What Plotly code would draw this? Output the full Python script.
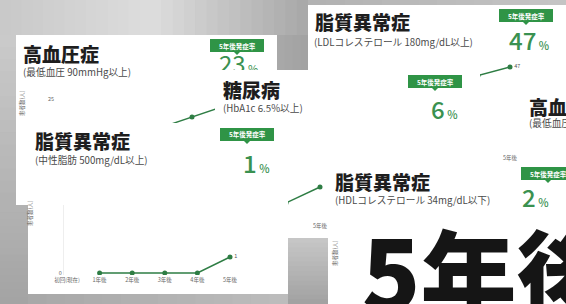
import plotly.graph_objects as go

W, H = 566, 304

# ---------------- data ----------------
years = ["初回(現在)", "1年後", "2年後", "3年後", "4年後", "5年後"]
tg_counts = [None, 0, 0, 0, 0, 1]             # 脂質異常症(中性脂肪) – main chart
htn_counts = [None, None, None, 17, 20, 23]    # 高血圧症 (mostly hidden)
dm_counts = [None, None, None, None, 3, 6]     # 糖尿病 (fragment)
ldl_counts = [None, None, None, None, 40, 47]  # 脂質異常症(LDL) (fragment)

card_titles = ["高血圧症", "糖尿病", "脂質異常症", "脂質異常症", "高血圧症", "脂質異常症"]
card_notes = ["(最低血圧 90mmHg以上)", "(HbA1c 6.5%以上)", "(中性脂肪 500mg/dL以上)",
              "(LDLコレステロール 180mg/dL以上)", "(最低血圧 90mmHg以上)",
              "(HDLコレステロール 34mg/dL以下)"]
risk_pct = [23, 6, 1, 47, None, 2]
badge_label = "5年後発症率"
y_title = "患者数(人)"
headline = "5年後"

# ---------------- styling / layout helpers ----------------
FONT = "Noto Sans CJK JP, Noto Sans, sans-serif"
GREEN_LINE = "#2e7d44"
GREEN_BADGE = "#2f9446"
GREEN_NUM = "#3a9150"


def fx(x):
    return x / W


def fy(y):
    return 1 - y / H


def rect(x0, y0, x1, y1, color):
    return dict(type="rect", xref="paper", yref="paper", x0=fx(x0), x1=fx(x1),
                y0=fy(y1), y1=fy(y0), fillcolor=color, line=dict(width=0), layer="below")


def hex2rgb(c):
    c = c.lstrip("#")
    return [int(c[i:i + 2], 16) for i in (0, 2, 4)]


def grad(x0, y0, x1, y1, c0, c1, n=14, horizontal=False):
    a, b = hex2rgb(c0), hex2rgb(c1)
    out = []
    for i in range(n):
        t = i / max(n - 1, 1)
        col = "rgb(%d,%d,%d)" % tuple(round(a[j] + (b[j] - a[j]) * t) for j in range(3))
        if horizontal:
            xa = x0 + (x1 - x0) * i / n
            xb = x0 + (x1 - x0) * (i + 1) / n + 0.6
            out.append(rect(xa, y0, xb, y1, col))
        else:
            ya = y0 + (y1 - y0) * i / n
            yb = y0 + (y1 - y0) * (i + 1) / n + 0.6
            out.append(rect(x0, ya, x1, yb, col))
    return out


shapes = []
# gray backdrop variations
shapes += grad(0, 0, 150, 35, "#c9c9c9", "#dcdcdc", horizontal=True)
shapes += grad(150, 0, 308, 35, "#dcdcdc", "#a9a9a9", horizontal=True)
shapes += grad(277, 35, 308, 70, "#a8a8a8", "#a2a2a2", n=4, horizontal=True)
shapes += grad(308, 0, 566, 5, "#b2b2b2", "#c4c4c4", horizontal=True)
shapes += grad(0, 35, 16, 205, "#cacaca", "#b2b2b2")
shapes += grad(0, 205, 28, 304, "#b2b2b2", "#a4a4a4")
shapes += grad(28, 294, 288, 304, "#a8a8a8", "#bcbcbc", horizontal=True)
shapes += grad(288, 238, 328, 304, "#c6c6c6", "#a2a2a2")

# white cards
for c in [(16, 35, 277, 125), (215, 70, 480, 238), (16, 123, 288, 205),
          (28, 150, 288, 294), (308, 5, 566, 238), (328, 160, 566, 304)]:
    shapes.append(rect(*c, "#ffffff"))

# badges (speech-bubble style)
BW, BH = 54, 13
badge_pos = [(210, 39), (408, 75), (220, 128), (499, 9), None, (521, 167)]
annotations = []
for bp in badge_pos:
    if bp is None:
        continue
    bx, by = bp
    shapes.append(rect(bx, by, bx + BW, by + BH, GREEN_BADGE))
    cx = bx + BW / 2
    shapes.append(dict(type="path", xref="paper", yref="paper", layer="below",
                       path="M %f,%f L %f,%f L %f,%f Z" % (fx(cx - 3), fy(by + BH), fx(cx + 3), fy(by + BH), fx(cx), fy(by + BH + 3)),
                       fillcolor=GREEN_BADGE, line=dict(width=0)))
    annotations.append(dict(xref="paper", yref="paper", x=fx(cx), y=fy(by + BH / 2),
                            text="<b>" + badge_label + "</b>", showarrow=False,
                            font=dict(size=6.5, color="white", family=FONT),
                            xanchor="center", yanchor="middle"))

# titles and notes
title_pos = [(21, 53.5), (221, 89.5), (33, 140), (313, 21.5), (527, 106.5), (333, 181.5)]
note_pos = [(21, 71.5), (221, 108), (33, 160), (312, 42), (527, 123), (333, 200)]
for t, n, tp, npos in zip(card_titles, card_notes, title_pos, note_pos):
    annotations.append(dict(xref="paper", yref="paper", x=fx(tp[0]), y=fy(tp[1]),
                            text=t, showarrow=False, xanchor="left", yanchor="middle",
                            font=dict(size=19, color="#1e1e1e", family=FONT, weight=900)))
    annotations.append(dict(xref="paper", yref="paper", x=fx(npos[0]), y=fy(npos[1]),
                            text=n, showarrow=False, xanchor="left", yanchor="middle",
                            font=dict(size=9.7, color="#4a4a4a", family=FONT)))

# big percentages (card A one is drawn clipped as a trace below)
num_pos = [None, (429, 108), (241, 162), (507, 40), None, (520, 196)]
for v, p in zip(risk_pct, num_pos):
    if v is None or p is None:
        continue
    annotations.append(dict(xref="paper", yref="paper", x=fx(p[0]), y=fy(p[1]),
                            text="%d<span style='font-size:11px'> %%</span>" % v,
                            showarrow=False, xanchor="left", yanchor="middle",
                            font=dict(size=24, color=GREEN_NUM, family=FONT, weight=500)))

# vertical axis titles
for (x, y) in [(22, 103), (30, 213), (335, 253)]:
    annotations.append(dict(xref="paper", yref="paper", x=fx(x), y=fy(y), text=y_title,
                            textangle=-90, showarrow=False, xanchor="center", yanchor="middle",
                            font=dict(size=5.5, color="#666666", family=FONT)))

# headline
annotations.append(dict(xref="paper", yref="paper", x=fx(360), y=fy(198), text=headline,
                        showarrow=False, xanchor="left", yanchor="top",
                        font=dict(size=96, color="#151515", family=FONT, weight=900)))


def xr(dom, p0, k):
    return [(dom[0] - p0) / k, (dom[1] - p0) / k]


def yr(dom, v0, q0, s):
    # dom = (top_px, bottom_px)
    return [v0 + (q0 - dom[1]) / s, v0 + (q0 - dom[0]) / s]


def line_trace(vals, ax, label_last=True):
    last = max(i for i, v in enumerate(vals) if v is not None)
    txt = [str(v) if (i == last and label_last) else "" for i, v in enumerate(vals)]
    return go.Scatter(x=years, y=vals, mode="lines+markers+text", text=txt,
                      textposition="middle right", textfont=dict(size=5.5, color="#555555", family=FONT),
                      line=dict(color=GREEN_LINE, width=1.4), marker=dict(size=5, color=GREEN_LINE),
                      xaxis="x" + ax, yaxis="y" + ax, hoverinfo="skip", cliponaxis=True,
                      connectgaps=False, showlegend=False)


fig = go.Figure()
fig.add_trace(line_trace(tg_counts, ""))
fig.add_trace(line_trace(htn_counts, "2"))
fig.add_trace(line_trace(dm_counts, "3", label_last=False))
fig.add_trace(line_trace(ldl_counts, "4"))
fig.add_trace(go.Scatter(x=[0.5], y=[0.1], mode="text",
                         text=["%d<span style='font-size:11px'> %%</span>" % risk_pct[0]],
                         textfont=dict(size=24, color=GREEN_NUM, family=FONT),
                         xaxis="x5", yaxis="y5", cliponaxis=True, hoverinfo="skip", showlegend=False))

tickfont = dict(size=5.5, color="#666666", family=FONT)


def xaxis(dom, p0, k, anchor, show=True):
    return dict(domain=[fx(dom[0]), fx(dom[1])], range=xr(dom, p0, k), anchor=anchor,
                type="category", categoryorder="array", categoryarray=years,
                showgrid=False, zeroline=False, showline=False, ticks="", automargin=False,
                showticklabels=show, tickfont=tickfont, fixedrange=True)


def yaxis(dom, v0, q0, s, anchor, tickvals, line=False):
    return dict(domain=[fy(dom[1]), fy(dom[0])], range=yr(dom, v0, q0, s), anchor=anchor,
                showgrid=False, zeroline=False, showline=line, linecolor="#eeeeee", ticks="",
                automargin=False, tickvals=tickvals, tickfont=tickfont, fixedrange=True)


fig.update_layout(
    template="none",
    width=W, height=H, autosize=False,
    margin=dict(l=0, r=0, t=0, b=0, pad=0),
    paper_bgcolor="#b6b6b6", plot_bgcolor="rgba(0,0,0,0)",
    font=dict(family=FONT),
    shapes=shapes, annotations=annotations, showlegend=False,
    # main chart (中性脂肪)
    xaxis=xaxis((64, 285), 67, 32.6, "y"),
    yaxis=yaxis((205, 275), 0, 273, 16, "x", [0], line=True),
    # 高血圧症 fragment
    xaxis2=xaxis((55, 215), 61.6, 32.6, "y2", show=False),
    yaxis2=yaxis((88, 123), 20, 117, 3.67, "x2", [25]),
    # 糖尿病 fragment
    xaxis3=xaxis((288, 326), 320 - 5 * 34, 34, "y3"),
    yaxis3=yaxis((150, 221), 6, 187, 5.33, "x3", []),
    # LDL fragment
    xaxis4=xaxis((480, 545), 510 - 5 * 32, 32, "y4"),
    yaxis4=yaxis((30, 153), 47, 67, 1.21, "x4", []),
    # clip window for card A number
    xaxis5=dict(domain=[fx(200), fx(277)], range=[0, 1], visible=False, anchor="y5",
                fixedrange=True, automargin=False),
    yaxis5=dict(domain=[fy(70), fy(35)], range=[0, 1], visible=False, anchor="x5",
                fixedrange=True, automargin=False),
)

fig.write_html("out.html", config={"displayModeBar": False},
               post_script="document.body.style.margin='0';document.body.style.padding='0';"
                           "document.documentElement.style.overflow='hidden';")
